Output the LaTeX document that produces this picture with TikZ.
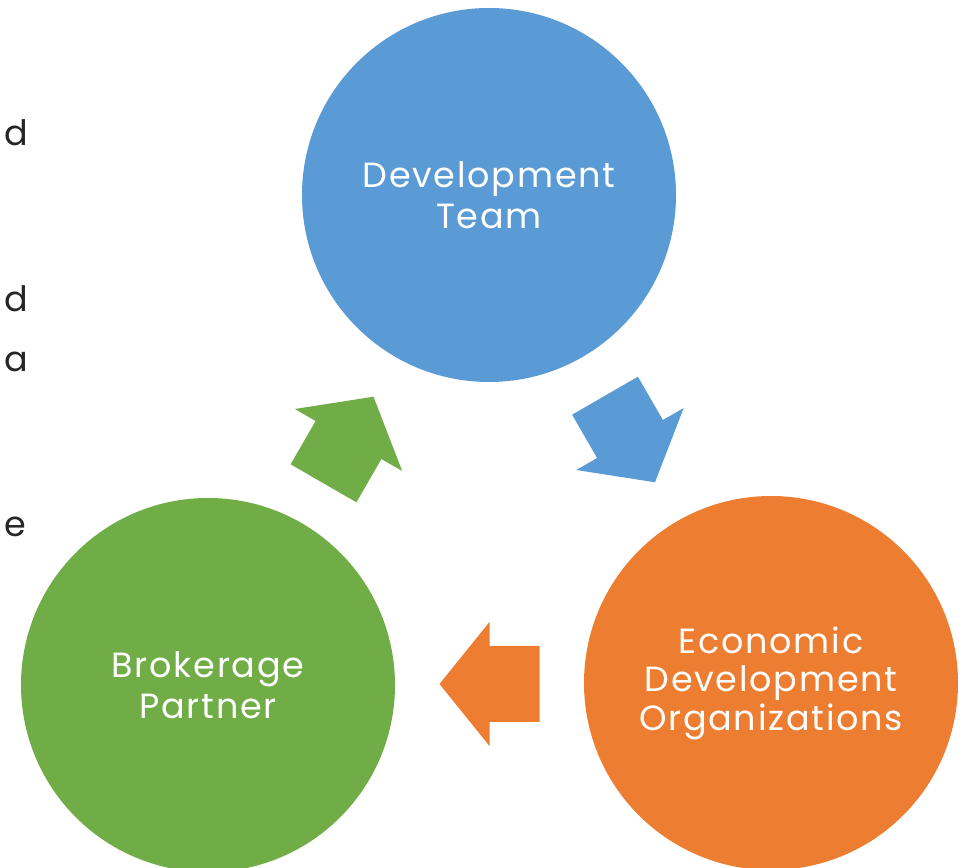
\documentclass[tikz,border=0pt]{standalone}
\usepackage{fontspec}
\setmainfont{Poppins}[LetterSpace=5]
\usepackage{xcolor}
\usetikzlibrary{positioning,calc}
\definecolor{teamblue}{HTML}{5B9BD5}
\definecolor{econorange}{HTML}{ED7D31}
\definecolor{brokergreen}{HTML}{70AD47}

\begin{document}
\begin{tikzpicture}[
  x=1pt, y=1pt,
  party/.style={circle, minimum size=374pt, inner sep=0pt, align=center, text=white, font=\fontsize{35}{41}\selectfont},
  stray/.style={anchor=base west, inner sep=0pt, text=black!85, font=\fontsize{35}{41}\selectfont},
  cyclearrow/.pic={\fill (-50,-38) -- (0,-38) -- (0,-62) -- (50,0) -- (0,62) -- (0,38) -- (-50,38) -- cycle;},
]
  \clip (0,0) rectangle (962,868);

  \node[party, fill=teamblue] (team) at (489,673) {Development\\Team};
  \node[party, fill=econorange, font=\fontsize{35}{38.5}\selectfont] (econ) at (771,185) {Economic\\Development\\Organizations};
  \node[party, fill=brokergreen] (broker) at (208,183) {Brokerage\\Partner};

  % cut-off words at the left edge
  \node[stray] (d1) at (4,722) {d};
  \node[stray] (d2) at (4,556) {d};
  \node[stray] (a1) at (4,496) {a};
  \node[stray] (e1) at (4,331) {e};

  \pic[fill=teamblue, rotate=-60] at ($(team)!0.5!(econ)$) {cyclearrow};
  \pic[fill=econorange, rotate=180] at ($(econ)!0.5!(broker)$) {cyclearrow};
  \pic[fill=brokergreen, rotate=60] at ($(broker)!0.5!(team)$) {cyclearrow};
\end{tikzpicture}
\end{document}
